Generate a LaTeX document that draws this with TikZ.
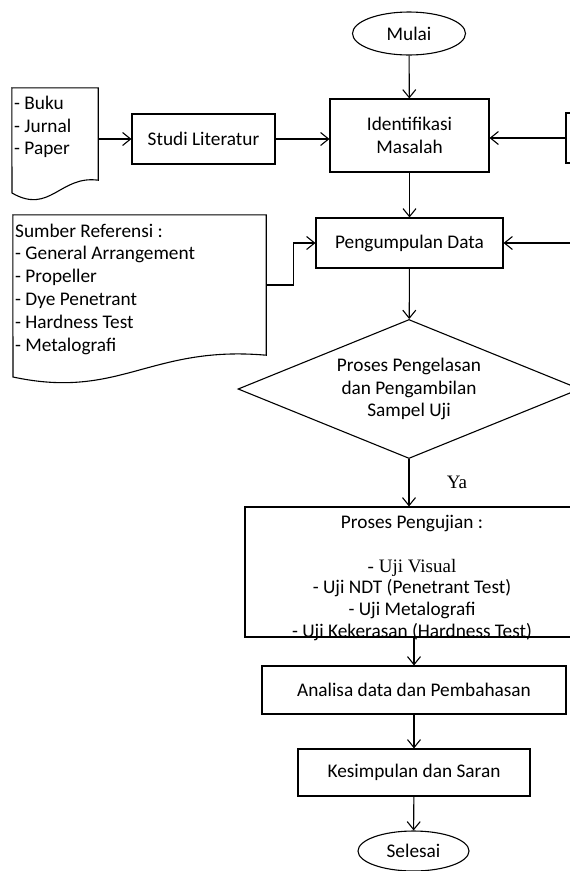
\documentclass[tikz,border=0pt]{standalone}
\usepackage{fontspec}
\setmainfont{Carlito}
\newfontfamily\timesfont{Liberation Serif}
\usetikzlibrary{shapes.geometric,arrows.meta}

\begin{document}
\begin{tikzpicture}[x=1pt,y=-1pt,font=\fontsize{19.3}{22.8}\selectfont,
  box/.style={rectangle,draw=black,line width=1.1pt,inner sep=0pt},
  term/.style={ellipse,draw=black,line width=1.1pt,inner sep=0pt},
  cek/.style={diamond,draw=black,line width=1.1pt,inner sep=0pt,aspect=2.4},
  doc/.style={draw=black,line width=1.1pt},
  arr/.style={line width=1.1pt,-{Straight Barb[length=8pt,width=13pt]}}]
\useasboundingbox (0,0) rectangle (570,871);
\node at (409,33.5) [term,minimum width=113pt,minimum height=43pt] (Mulai) {Mulai};
\node at (55,134) [minimum width=86pt,minimum height=92pt,inner sep=0pt] (BukuDoc) {};
\node at (14,127) [anchor=west,align=left,inner sep=0pt] (Buku) {- Buku\\- Jurnal\\- Paper};
\node at (203.5,139) [box,minimum width=143pt,minimum height=50pt] (Literatur) {Studi Literatur};
\node at (409.5,135.5) [box,minimum width=159pt,minimum height=73pt,align=center] (Identifikasi) {Identifikasi\\Masalah};
\node at (637.5,138) [box,minimum width=143pt,minimum height=50pt] (Kanan) {};
\node at (409.5,243) [box,minimum width=187pt,minimum height=50pt] (Pengumpulan) {Pengumpulan Data};
\coordinate (KananData) at (600,243);
\node at (139.5,285) [minimum width=253pt,minimum height=140pt,inner sep=0pt] (SumberDoc) {};
\node at (15,289) [anchor=west,align=left,inner sep=0pt] (Sumber) {Sumber Referensi :\\- General Arrangement\\- Propeller\\- Dye Penetrant\\- Hardness Test\\- Metalografi};
\node at (409,389) [cek,minimum width=342pt,minimum height=139pt,align=center] (Pengelasan) {Proses Pengelasan\\dan Pengambilan\\Sampel Uji};
\node at (412,572) [box,minimum width=334pt,minimum height=130pt] (Pengujian) {};
\node at (412,515) [anchor=north,align=center,inner sep=0pt,font=\fontsize{19.3}{21.8}\selectfont] (PengujianTeks) {Proses Pengujian :\\ \\{\timesfont\fontsize{19}{21.8}\selectfont - Uji Visual}\\- Uji NDT (Penetrant Test)\\- Uji Metalografi\\- Uji Kekerasan (Hardness Test)};
\node at (414,690) [box,minimum width=304pt,minimum height=48pt] (Analisa) {Analisa data dan Pembahasan};
\node at (414,772.5) [box,minimum width=232pt,minimum height=47pt] (Kesimpulan) {Kesimpulan dan Saran};
\node at (413.5,851) [term,minimum width=111pt,minimum height=40pt] (Selesai) {Selesai};
% dokumen
\draw[doc] (BukuDoc.south east) -- (BukuDoc.north east) -- (BukuDoc.north west) -- (12,193) .. controls (50,215) and (60,175) .. (BukuDoc.south east) -- cycle;
\draw[doc] (SumberDoc.south east) -- (SumberDoc.north east) -- (SumberDoc.north west) -- (13,377) .. controls (120,400) and (150,345) .. (SumberDoc.south east) -- cycle;
% panah
\draw[arr] (Mulai) -- (Identifikasi);
\draw[arr] (BukuDoc.east |- Literatur) -- (Literatur);
\draw[arr] (Literatur.east) -- (Literatur.east -| Identifikasi.west);
\draw[arr] (Kanan.west) -- (Kanan.west -| Identifikasi.east);
\draw[arr] (Identifikasi) -- (Pengumpulan);
\draw[arr] (KananData) -- (Pengumpulan.east);
\draw[arr] (SumberDoc.east) -- ++(27,0) |- (Pengumpulan.west);
\draw[arr] (Pengumpulan) -- (Pengelasan);
\draw[arr] (Pengelasan.south) -- node[right=34pt,font=\timesfont\fontsize{19}{22}\selectfont] (Ya) {Ya} (Pengelasan.south |- Pengujian.north);
\draw[arr] (Analisa.north |- Pengujian.south) -- (Analisa.north);
\draw[arr] (Analisa) -- (Kesimpulan);
\draw[arr] (Kesimpulan) -- (Selesai);
\end{tikzpicture}
\end{document}
